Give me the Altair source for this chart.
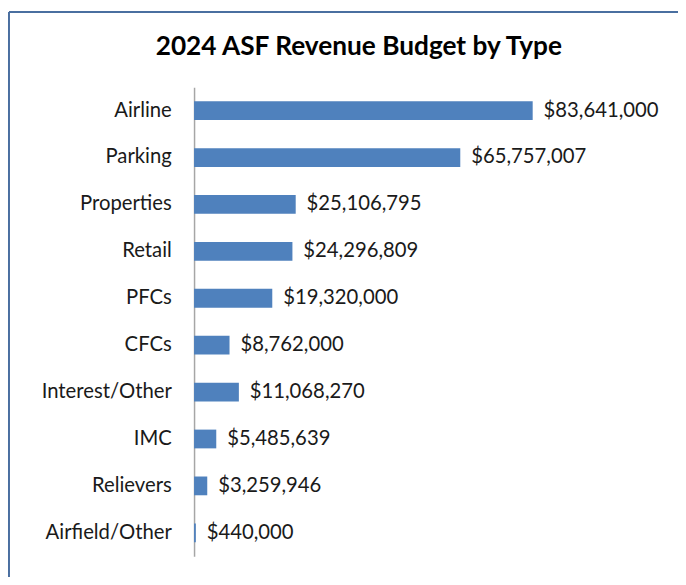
import altair as alt
import pandas as pd

categories = ["Airline", "Parking", "Properties", "Retail", "PFCs", "CFCs",
              "Interest/Other", "IMC", "Relievers", "Airfield/Other"]
values = [83641000, 65757007, 25106795, 24296809, 19320000, 8762000,
          11068270, 5485639, 3259946, 440000]
title_text = "2024 ASF Revenue Budget by Type"

df = pd.DataFrame({"type": categories, "value": values})

W, H = 405, 474
PL, PT, PR, PB = 188, 77, 84, 21
FONT = "Lato"
FS = 20.5

base = alt.Chart(df).encode(
    y=alt.Y("type:N", sort=categories, title=None,
            scale=alt.Scale(paddingInner=0.6, paddingOuter=0.3),
            axis=alt.Axis(ticks=False, domainColor="#a6a6a6", domainWidth=1.5,
                          labelFontSize=FS, labelFont=FONT, labelColor="#1a1a1a",
                          labelPadding=23, labelLimit=300)),
    x=alt.X("value:Q", axis=None, scale=alt.Scale(domain=[0, 99000000])),
)

bars = base.mark_bar(color="#4f81bd")
labels = base.mark_text(align="left", baseline="middle", dx=11, fontSize=FS,
                        font=FONT, color="#1a1a1a").encode(
    text=alt.Text("value:Q", format="$,.0f"))

one = pd.DataFrame({"t": [title_text]})
title = alt.Chart(one).mark_text(font=FONT, fontSize=26.5, fontWeight="bold",
                                 color="#000000", align="center",
                                 baseline="alphabetic").encode(
    text="t:N", x=alt.value(W / 2 - 36), y=alt.value(-33))

frame_left = alt.Chart(one).mark_rule(color="#4a6fa0", strokeWidth=2, clip=False).encode(
    x=alt.value(-PL + 1), y=alt.value(-PT + 1), y2=alt.value(H + PB))
frame_top = alt.Chart(one).mark_rule(color="#4a6fa0", strokeWidth=2, clip=False).encode(
    x=alt.value(-PL + 1), x2=alt.value(W + PR), y=alt.value(-PT + 1))

chart = alt.layer(bars, labels, title, frame_left, frame_top).properties(
    width=W, height=H,
    background="white",
    autosize=alt.AutoSizeParams(type="none"),
    padding={"left": PL, "top": PT, "right": PR, "bottom": PB},
).configure_view(stroke="transparent", strokeWidth=0)

chart.save("out.html", embed_options={"renderer": "svg", "actions": False})
